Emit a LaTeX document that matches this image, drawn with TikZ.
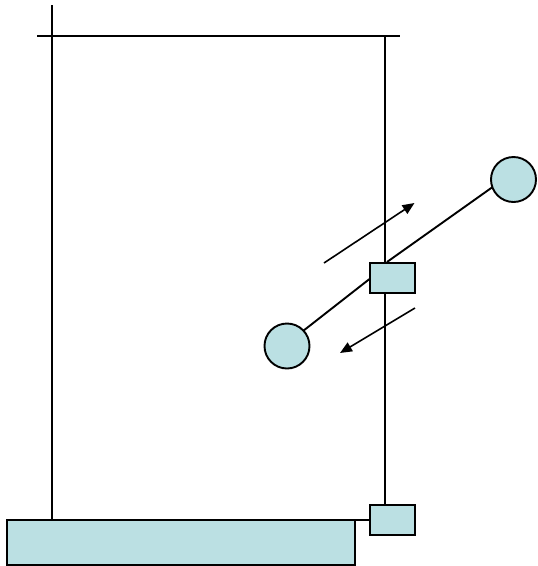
\documentclass[tikz,border=0pt]{standalone}
\usetikzlibrary{arrows.meta}
\definecolor{pale}{HTML}{BBE0E3}
\tikzset{
  wire/.style={draw=black,line width=1.9pt},
  flow/.style={wire,line width=1.6pt,-{Triangle[length=12pt,width=10pt]}},
  box/.style={draw=black,fill=pale,line width=1.9pt,rectangle,inner sep=0pt,outer sep=0pt,minimum width=45pt,minimum height=30pt},
  base/.style={box,minimum width=348pt,minimum height=45pt},
  ball/.style={draw=black,fill=pale,line width=1.9pt,circle,inner sep=0pt,outer sep=0pt,minimum size=45pt}
}
\begin{document}
\begin{tikzpicture}[x=1pt,y=-1pt]
\useasboundingbox (0,0) rectangle (538,566);
% free ends
\coordinate (leftTop) at (52,5);
\coordinate (leftBottom) at (52,520);
\coordinate (barL) at (37,36);
\coordinate (barR) at (400,36);
\coordinate (rightTop) at (385,36);
\coordinate (rightBottom) at (385,505);
\coordinate (upS) at (324,263);
\coordinate (upE) at (414.5,203);
\coordinate (dnS) at (415,308);
\coordinate (dnE) at (340,353);
\coordinate (linkUp) at (387,262);
\coordinate (linkDn) at (369.5,279);
% rails
\draw[wire] (leftTop) -- (leftBottom);
\draw[wire] (barL) -- (barR);
\draw[wire] (rightTop) -- (rightBottom);
% nodes
\node[box] (slider) at (392.5,278) {};
\node[box] (foot) at (392.5,520) {};
\node[base] (bed) at (181,542.5) {};
\node[ball] (ballA) at (513.5,179.5) {};
\node[ball] (ballB) at (287,346) {};
% connectors
\draw[wire] (bed.north east) -- (foot.west |- bed.north east);
\draw[wire] (ballA.200) -- (linkUp);
\draw[wire] (linkDn) -- (ballB.43);
\draw[flow] (upS) -- (upE);
\draw[flow] (dnS) -- (dnE);
\end{tikzpicture}
\end{document}
